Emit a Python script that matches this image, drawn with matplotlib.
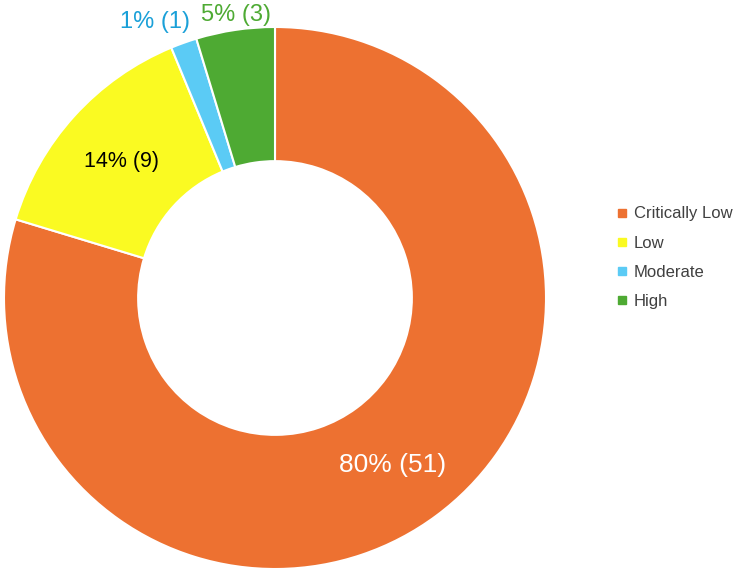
import numpy as np
import matplotlib
matplotlib.use("Agg")
import matplotlib.pyplot as plt
from matplotlib.lines import Line2D

plt.rcParams['font.family'] = ['Liberation Sans', 'DejaVu Sans']

# данные
categories = ["Critically Low", "Low", "Moderate", "High"]
counts = [51, 9, 1, 3]
percents = [80, 14, 1, 5]
colors = ["#ED7131", "#FAFA22", "#5BCBF5", "#4EAA33"]
label_colors = ["white", "black", "#1AA0D8", "#4EAA33"]
# положение подписей: доля радиуса и сдвиг угла
label_dist = [0.755, 0.758, 1.11, 1.055]
label_shift = [-1.4, 0.5, 3.8, -0.6]
label_size = [19, 15.5, 17, 17]

fig = plt.figure(figsize=(7.35, 5.70), dpi=100)
ax = fig.add_axes([0, 0, 1, 1])
ax.axis("off")

cx, cy, R = 275, 272, 271
wedges, _ = ax.pie(counts, colors=colors, startangle=90, counterclock=False,
                   radius=R, center=(cx, cy),
                   wedgeprops=dict(width=R * 0.495, edgecolor="white", linewidth=1.5))
ax.set_xlim(0, 735)
ax.set_ylim(0, 570)
ax.set_aspect("equal")

total = sum(counts)
start = 90.0
for i, c in enumerate(counts):
    span = 360.0 * c / total
    mid = np.deg2rad(start - span / 2 + label_shift[i])
    start -= span
    x = cx + R * label_dist[i] * np.cos(mid)
    y = cy + R * label_dist[i] * np.sin(mid)
    ax.text(x, y, f"{percents[i]}% ({c})", ha="center", va="center",
            fontsize=label_size[i], color=label_colors[i])

handles = [Line2D([], [], marker="s", linestyle="none", markersize=6,
                  markerfacecolor=col, markeredgecolor=col) for col in colors]
fig.legend(handles, categories, loc="center left", bbox_to_anchor=(0.817, 0.548),
           frameon=False, fontsize=12, handlelength=0.8, handletextpad=0.3,
           labelspacing=0.85, labelcolor="#404040")

fig.savefig("out.png", dpi=100)
